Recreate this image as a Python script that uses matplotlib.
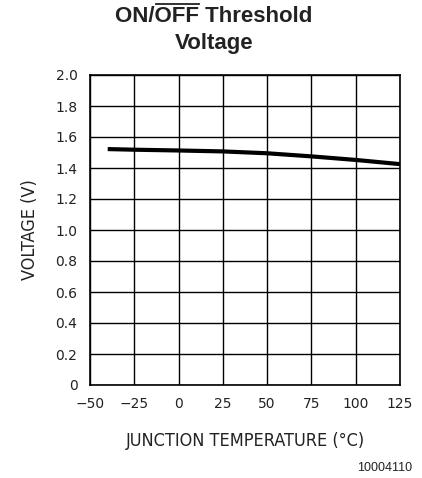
import matplotlib
matplotlib.use("Agg")
import matplotlib.pyplot as plt
import numpy as np

# curve
temp_c = [-40, -25, 0, 25, 50, 75, 100, 125]
voltage_v = [1.522, 1.518, 1.513, 1.507, 1.495, 1.475, 1.452, 1.425]

x_ticks = [-50, -25, 0, 25, 50, 75, 100, 125]
y_ticks = [0, 0.2, 0.4, 0.6, 0.8, 1.0, 1.2, 1.4, 1.6, 1.8, 2.0]
y_tick_labels = ["0", "0.2", "0.4", "0.6", "0.8", "1.0", "1.2", "1.4", "1.6", "1.8", "2.0"]

plt.rcParams["font.family"] = ["DejaVu Sans"]

fig = plt.figure(figsize=(4.22, 4.78), dpi=100)
ax = fig.add_axes([90 / 422, 1 - 385 / 478, 310 / 422, 310 / 478])

ax.plot(temp_c, voltage_v, color="black", lw=3, solid_capstyle="butt")
ax.set_xlim(-50, 125)
ax.set_ylim(0, 2.0)
ax.set_xticks(x_ticks)
ax.set_yticks(y_ticks)
ax.set_yticklabels(y_tick_labels)
ax.grid(True, color="black", lw=1)
ax.tick_params(length=0, labelsize=10, pad=9, colors="#222222")
for s in ax.spines.values():
    s.set_linewidth(1.2)

lab = dict(family="DejaVu Sans", stretch="condensed", fontsize=13, color="#222222")
ax.set_xlabel("JUNCTION TEMPERATURE (°C)", labelpad=15, **lab)
ax.set_ylabel("VOLTAGE (V)", labelpad=12, **lab)

# title with overline on OFF
tfont = dict(family="Liberation Sans", weight="bold", size=16, color="#222222")
full = "ON/OFF Threshold"
t = fig.text(214 / 422, 1 - 16 / 478, full, ha="center", va="center", **tfont)
fig.text(214 / 422, 1 - 44 / 478, "Voltage", ha="center", va="center", **tfont)

fig.canvas.draw()
r = fig.canvas.get_renderer()
bb = t.get_window_extent(r)
tmp = fig.text(0, 0, "ON/", **tfont)
w_pre = tmp.get_window_extent(r).width
tmp.set_text("OFF")
w_off = tmp.get_window_extent(r).width
tmp.remove()
x0 = (bb.x0 + w_pre + 1) / fig.bbox.width
x1 = (bb.x0 + w_pre + w_off) / fig.bbox.width
yl = (bb.y1 + 2) / fig.bbox.height
fig.add_artist(plt.Line2D([x0, x1], [yl, yl], transform=fig.transFigure,
                          color="#222222", lw=1.3))

fig.text(412 / 422, 1 - 468 / 478, "10004110", ha="right", va="center",
         family="Liberation Sans", size=9, color="#222222")

fig.savefig("out.png", dpi=100)
